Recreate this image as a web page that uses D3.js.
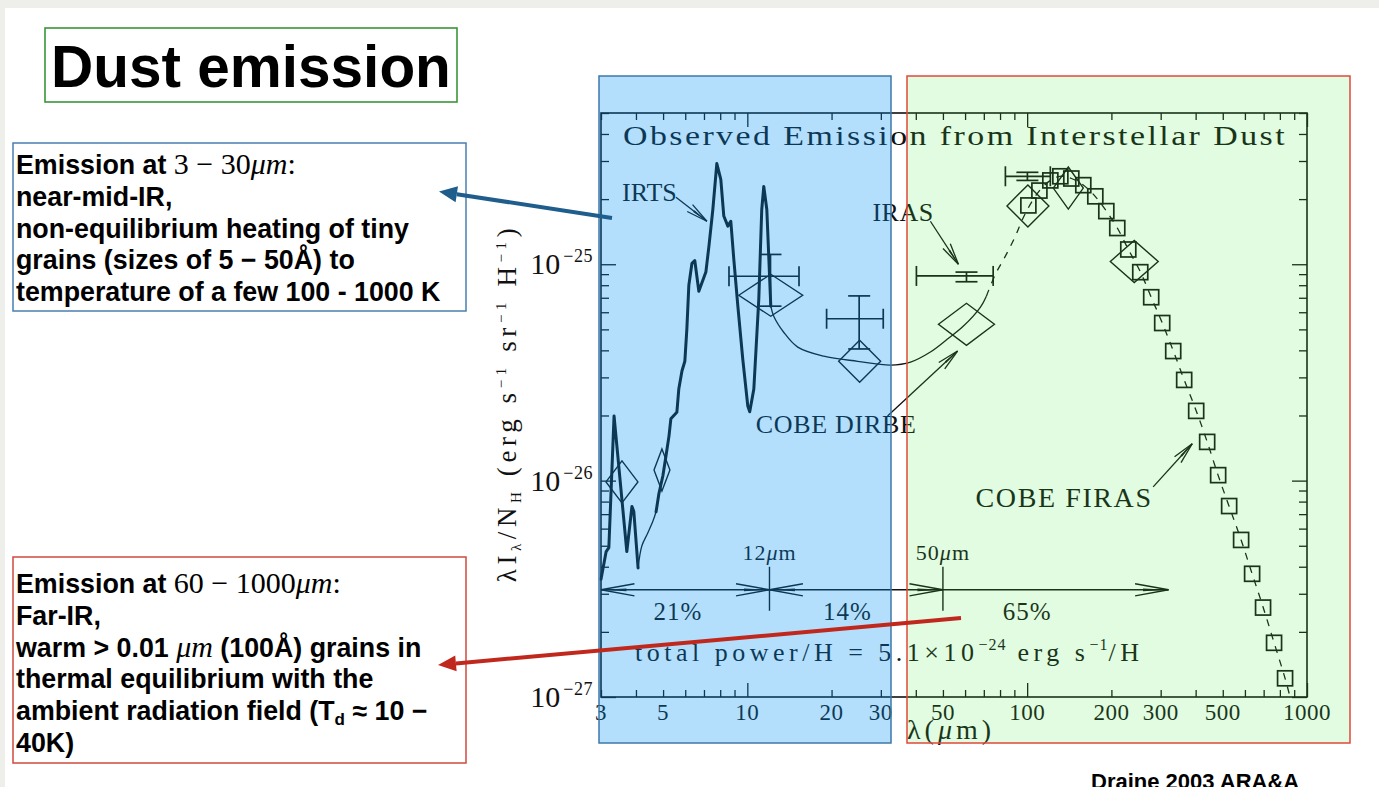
<!DOCTYPE html>
<html>
<head>
<meta charset="utf-8">
<title>Dust emission</title>
<script src="https://cdn.jsdelivr.net/npm/d3@7"></script>
<style>
  html, body { margin: 0; padding: 0; background: #eeeeea; }
  svg { display: block; }
  .fig text { font-family: "Liberation Serif", "Times New Roman", serif; fill: #111; }
  .slide text { font-family: "Liberation Sans", Arial, sans-serif; font-weight: bold; fill: #000; }
  .slide .m { font-family: "Liberation Serif", serif; font-weight: normal; }
  .slide .mi { font-family: "Liberation Serif", serif; font-weight: normal; font-style: italic; }
</style>
</head>
<body>
<div id="slide"></div>
<script>
// Slide size
var svgWidth = 1379;
var svgHeight = 787;

// Plot box of the scanned figure (pixels)
var plot = { left: 601, top: 113, right: 1307, bottom: 697 };

// Data: [wavelength (micron), lambda I_lambda / N_H (erg s^-1 sr^-1 H^-1)]
var irtsShort = [[3.0, 3.5e-27], [3.13, 4.7e-27], [3.2, 4.9e-27], [3.34, 1.99e-26], [3.71, 4.7e-27],
  [3.87, 7.6e-27], [3.93, 7.2e-27], [4.07, 3.95e-27]];
var modelGap = [[4.07, 3.95e-27], [4.2, 5.0e-27], [4.4, 5.7e-27], [4.6, 6.5e-27], [4.72, 7.18e-27]];
var irtsLong = [[4.72, 7.18e-27], [4.83, 8.7e-27], [4.99, 1.05e-26], [5.12, 1.3e-26], [5.25, 1.61e-26],
  [5.33, 1.93e-26], [5.6, 2.07e-26], [5.69, 2.65e-26], [5.84, 3.21e-26], [5.98, 3.56e-26], [6.08, 5.01e-26],
  [6.18, 8.0e-26], [6.34, 1.01e-25], [6.49, 1.04e-25], [6.71, 7.5e-26], [7.11, 9.2e-26], [7.29, 1.21e-25],
  [7.53, 1.79e-25], [7.78, 2.92e-25], [8.04, 2.47e-25], [8.24, 1.67e-25], [8.52, 1.5e-25], [8.73, 1.58e-25],
  [8.95, 1.05e-25], [9.25, 6.4e-26], [9.63, 3.65e-26], [10.04, 2.21e-26], [10.2, 2.08e-26], [10.55, 2.65e-26],
  [10.99, 6.9e-26], [11.26, 1.79e-25], [11.45, 2.29e-25], [11.74, 1.79e-25], [11.83, 1.41e-25], [12.13, 6.4e-26]];
var modelSolid = [[12.13, 6.4e-26], [12.43, 5.75e-26], [13.49, 4.85e-26], [15.14, 4.14e-26], [18.75, 3.76e-26],
  [24.8, 3.56e-26], [32.5, 3.42e-26], [38.3, 3.53e-26], [45.1, 3.93e-26], [51.9, 4.51e-26], [59.2, 5.18e-26],
  [68.1, 6.34e-26], [71.5, 7.12e-26]];
var modelDashed = [[71.5, 7.12e-26], [77, 8.99e-26], [83.6, 1.09e-25], [90.8, 1.35e-25], [97, 1.65e-25],
  [105.3, 2.0e-25], [113.4, 2.27e-25], [121, 2.44e-25], [131, 2.55e-25], [144, 2.49e-25], [159, 2.32e-25],
  [175, 2.06e-25], [192, 1.76e-25], [210, 1.47e-25], [230, 1.17e-25], [254, 9.2e-26], [278, 7.0e-26],
  [304, 5.35e-26], [333, 3.97e-26], [364, 2.92e-26], [402, 2.1e-26], [440, 1.51e-26], [481, 1.06e-26],
  [527, 7.6e-27], [582, 5.3e-27], [637, 3.7e-27], [697, 2.6e-27], [763, 1.78e-27], [835, 1.22e-27], [870, 1.0e-27]];
var firas = [[101, 1.87e-25], [110.6, 2.19e-25], [121, 2.44e-25], [131.4, 2.55e-25], [143.8, 2.49e-25],
  [158.7, 2.32e-25], [175.2, 2.06e-25], [191.8, 1.76e-25], [209.9, 1.47e-25], [229.8, 1.17e-25],
  [253.6, 9.19e-26], [277.5, 7.04e-26], [303.8, 5.35e-26], [332.6, 3.97e-26], [364, 2.92e-26],
  [401.8, 2.1e-26], [439.8, 1.51e-26], [481.4, 1.06e-26], [527, 7.63e-27], [581.5, 5.32e-27],
  [636.6, 3.71e-27], [696.6, 2.59e-27], [762.6, 1.78e-27], [834.9, 1.22e-27]];
// DIRBE bands: [lambda, value, band low, band high]
var dirbe = [[3.565, 9.86e-27, 3.126, 4.065], [4.953, 1.12e-26, 4.64, 5.29], [12.13, 7.19e-26, 9.32, 15.77],
  [25.2, 3.56e-26, 21.2, 29.95], [60.7, 5.28e-26, 48.2, 76.4], [100.6, 1.86e-25, 84.7, 119.6],
  [140.3, 2.25e-25, 124, 158.7], [241.4, 1.03e-25, 198.2, 294]];
// IRAS: [lambda, value, lambda low, lambda high, value low, value high]
var iras = [[12.1, 8.8e-26, 8.6, 15.3, 6.4e-26, 1.11e-25], [25.1, 5.6e-26, 19.2, 30.6, 4.06e-26, 7.14e-26],
  [60.7, 8.83e-26, 40.2, 75.6, 8.3e-26, 9.2e-26], [100.2, 2.55e-25, 83.6, 121, 2.44e-25, 2.66e-25]];

var xTickLabels = [3, 5, 10, 20, 30, 50, 100, 200, 300, 500, 1000];
var yTickExps = [-27, -26, -25];

// Power split along wavelength
var powerEdges = [3, 12, 50, 320];
var powerShares = ["21%", "14%", "65%"];
var powerLabelAt = [5.65, 22.8, 100];
var powerLevel = 3.13e-27;
var edgeNames = ["12", "50"];

// Labels inside the figure: text, text anchor point, arrow start, arrow tip
var figLabels = [
  { text: "IRTS", at: [3.565, 1.97e-25], from: [5.56, 2.04e-25], to: [7.17, 1.58e-25] },
  { text: "IRAS", at: [28.0, 1.58e-25], from: [45.1, 1.58e-25], to: [56.8, 1.0e-25] },
  { text: "COBE DIRBE", at: [10.72, 1.66e-26], from: [31.7, 1.99e-26], to: [56.4, 3.97e-26] },
  { text: "COBE FIRAS", at: [65.4, 7.57e-27], from: [282, 9.35e-27], to: [389, 1.48e-26] }
];
var labelSizes = [26, 26, 26, 28];
var labelSpacing = [0, 0.5, 0.7, 1.6];

var svg = d3.select("#slide").append("svg")
  .attr("width", svgWidth)
  .attr("height", svgHeight);

svg.append("rect").attr("width", svgWidth).attr("height", svgHeight).attr("fill", "#eeeeea");
svg.append("rect").attr("x", 5).attr("y", 8)
  .attr("width", svgWidth - 5).attr("height", svgHeight - 8).attr("fill", "#fff");

var x = d3.scaleLog().domain([3, 1000]).range([plot.left, plot.right]);
var y = d3.scaleLog().domain([1e-27, 5e-25]).range([plot.bottom, plot.top]);

var ink = "#111";
var fig = svg.append("g").attr("class", "fig");

// frame
fig.append("rect")
  .attr("x", plot.left).attr("y", plot.top)
  .attr("width", plot.right - plot.left).attr("height", plot.bottom - plot.top)
  .attr("fill", "none").attr("stroke", ink).attr("stroke-width", 1.6);

function isDecade(d) {
  var l = Math.log10(d);
  return Math.abs(l - Math.round(l)) < 1e-6;
}
var xMajor = x.ticks().filter(isDecade);
var xMinor = x.ticks().filter(function(d) { return !isDecade(d); });
var yMajor = y.ticks().filter(isDecade);
var yMinor = y.ticks().filter(function(d) { return !isDecade(d); });

function ticks(axis, values, size, tx, ty) {
  fig.append("g")
    .attr("transform", "translate(" + tx + "," + ty + ")")
    .attr("color", ink)
    .call(axis.tickValues(values).tickSize(-size).tickSizeOuter(0).tickFormat(""))
    .call(function(g) { g.select(".domain").remove(); })
    .selectAll("line").attr("stroke-width", 1.3);
}
ticks(d3.axisBottom(x), xMinor, 7, 0, plot.bottom);
ticks(d3.axisBottom(x), xMajor, 14, 0, plot.bottom);
ticks(d3.axisTop(x), xMinor, 7, 0, plot.top);
ticks(d3.axisTop(x), xMajor, 14, 0, plot.top);
ticks(d3.axisLeft(y), yMinor, 8, plot.left, 0);
ticks(d3.axisLeft(y), yMajor, 15, plot.left, 0);
ticks(d3.axisRight(y), yMinor, 8, plot.right, 0);
ticks(d3.axisRight(y), yMajor, 15, plot.right, 0);

// tick labels
fig.selectAll(".xlab").data(xTickLabels).join("text")
  .attr("class", "xlab")
  .attr("x", function(d) { return x(d); })
  .attr("y", plot.bottom + 23)
  .attr("text-anchor", "middle")
  .attr("font-size", 23)
  .attr("letter-spacing", 0.5)
  .text(function(d) { return d; });

var ylab = fig.selectAll(".ylab").data(yTickExps).join("text")
  .attr("class", "ylab")
  .attr("x", plot.left - 8)
  .attr("y", function(d) { return y(Math.pow(10, d)) + 10; })
  .attr("text-anchor", "end");
ylab.append("tspan").attr("font-size", 30).text("10");
ylab.append("tspan").attr("font-size", 18).attr("dx", 3).attr("dy", -12).attr("letter-spacing", 0.5)
  .text(function(d) { return "\u2212" + Math.abs(d); });

// axis titles
var xt = fig.append("text")
  .attr("x", plot.left + 306).attr("y", plot.bottom + 42)
  .attr("font-size", 28).attr("letter-spacing", 4);
xt.append("tspan").text("\u03bb(");
xt.append("tspan").attr("font-style", "italic").text("\u03bc");
xt.append("tspan").text("m)");

var yt = fig.append("text")
  .attr("transform", "translate(516," + (plot.top + 290) + ") rotate(-90)")
  .attr("text-anchor", "middle")
  .attr("font-size", 27)
  .attr("letter-spacing", 4.6);
yt.append("tspan").text("\u03bbI");
yt.append("tspan").attr("font-size", 15).attr("dy", 5).text("\u03bb");
yt.append("tspan").attr("dy", -5).text("/N");
yt.append("tspan").attr("font-size", 15).attr("dy", 5).text("H");
yt.append("tspan").attr("dy", -5).text(" (erg s");
yt.append("tspan").attr("font-size", 15).attr("dy", -10).text("\u22121");
yt.append("tspan").attr("dy", 10).text(" sr");
yt.append("tspan").attr("font-size", 15).attr("dy", -10).text("\u22121");
yt.append("tspan").attr("dy", 10).text(" H");
yt.append("tspan").attr("font-size", 15).attr("dy", -10).text("\u22121");
yt.append("tspan").attr("dy", 10).text(")");

fig.append("text")
  .attr("x", plot.left + 22).attr("y", plot.top + 32)
  .attr("font-size", 28)
  .attr("letter-spacing", 2)
  .attr("textLength", 664).attr("lengthAdjust", "spacingAndGlyphs")
  .text("Observed Emission from Interstellar Dust");

// data lines
var straight = d3.line().x(function(d) { return x(d[0]); }).y(function(d) { return y(d[1]); });
var smooth = d3.line().curve(d3.curveCatmullRom.alpha(0.5))
  .x(function(d) { return x(d[0]); }).y(function(d) { return y(d[1]); });

[modelGap, modelSolid].forEach(function(s) {
  fig.append("path").attr("d", smooth(s)).attr("fill", "none").attr("stroke", ink).attr("stroke-width", 1.3);
});
fig.append("path").attr("d", smooth(modelDashed)).attr("fill", "none")
  .attr("stroke", ink).attr("stroke-width", 1.3).attr("stroke-dasharray", "7,7");
[irtsShort, irtsLong].forEach(function(s) {
  fig.append("path").attr("d", straight(s)).attr("fill", "none").attr("stroke", ink)
    .attr("stroke-width", 3).attr("stroke-linejoin", "round").attr("stroke-linecap", "round");
});

// DIRBE diamonds
var dh = 21;
fig.selectAll(".dirbe").data(dirbe).join("path")
  .attr("class", "dirbe")
  .attr("d", function(d) {
    var cx = x(d[0]), cy = y(d[1]);
    return "M" + x(d[2]) + "," + cy + "L" + cx + "," + (cy - dh) + "L" + x(d[3]) + "," + cy +
      "L" + cx + "," + (cy + dh) + "Z";
  })
  .attr("fill", "none").attr("stroke", ink).attr("stroke-width", 1.4);

// FIRAS squares
var sq = 15;
fig.selectAll(".firas").data(firas).join("rect")
  .attr("class", "firas")
  .attr("x", function(d) { return x(d[0]) - sq / 2; })
  .attr("y", function(d) { return y(d[1]) - sq / 2; })
  .attr("width", sq).attr("height", sq)
  .attr("fill", "none").attr("stroke", ink).attr("stroke-width", 1.7);

// IRAS error crosses
var capH = 10, capV = 11;
iras.forEach(function(d) {
  var g = fig.append("g").attr("stroke", ink).attr("stroke-width", 1.7);
  var cx = x(d[0]), cy = y(d[1]), x0 = x(d[2]), x1 = x(d[3]), y0 = y(d[4]), y1 = y(d[5]);
  g.append("line").attr("x1", x0).attr("x2", x1).attr("y1", cy).attr("y2", cy);
  g.append("line").attr("x1", x0).attr("x2", x0).attr("y1", cy - capH).attr("y2", cy + capH);
  g.append("line").attr("x1", x1).attr("x2", x1).attr("y1", cy - capH).attr("y2", cy + capH);
  g.append("line").attr("x1", cx).attr("x2", cx).attr("y1", y0).attr("y2", y1);
  g.append("line").attr("x1", cx - capV).attr("x2", cx + capV).attr("y1", y0).attr("y2", y0);
  g.append("line").attr("x1", cx - capV).attr("x2", cx + capV).attr("y1", y1).attr("y2", y1);
});

// open arrow head made of two barbs and a thin filled core
function head(g, x1, y1, x2, y2, len, spread) {
  var a = Math.atan2(y2 - y1, x2 - x1);
  [-spread, spread].forEach(function(s) {
    g.append("line").attr("x1", x2).attr("y1", y2)
      .attr("x2", x2 - len * Math.cos(a + s)).attr("y2", y2 - len * Math.sin(a + s));
  });
  var c = len * 0.75, s2 = spread * 0.3;
  g.append("path")
    .attr("d", "M" + x2 + "," + y2 +
      "L" + (x2 - c * Math.cos(a + s2)) + "," + (y2 - c * Math.sin(a + s2)) +
      "L" + (x2 - c * Math.cos(a - s2)) + "," + (y2 - c * Math.sin(a - s2)) + "Z")
    .attr("fill", ink).attr("stroke", "none");
}

// labels with arrows
figLabels.forEach(function(d, i) {
  fig.append("text")
    .attr("x", x(d.at[0])).attr("y", y(d.at[1]))
    .attr("font-size", labelSizes[i]).attr("letter-spacing", labelSpacing[i])
    .text(d.text);
  var g = fig.append("g").attr("stroke", ink).attr("stroke-width", 1.3);
  var ax = x(d.from[0]), ay = y(d.from[1]), bx = x(d.to[0]), by = y(d.to[1]);
  g.append("line").attr("x1", ax).attr("y1", ay).attr("x2", bx).attr("y2", by);
  head(g, ax, ay, bx, by, 22, 0.2);
});

// power split arrows
var py = y(powerLevel);
var pg = fig.append("g").attr("stroke", ink).attr("stroke-width", 1.4);
pg.append("line").attr("x1", x(powerEdges[0])).attr("x2", x(powerEdges[3])).attr("y1", py).attr("y2", py);
for (var i = 0; i < 3; i++) {
  var a0 = x(powerEdges[i]), a1 = x(powerEdges[i + 1]);
  if (i < 2) head(pg, a1, py, a0, py, 34, 0.18);
  head(pg, a0, py, a1, py, 34, 0.18);
  fig.append("text")
    .attr("x", x(powerLabelAt[i])).attr("y", py + 30)
    .attr("text-anchor", "middle").attr("font-size", 25).attr("letter-spacing", 1)
    .text(powerShares[i]);
}
edgeNames.forEach(function(n, j) {
  var ex = x(powerEdges[j + 1]);
  pg.append("line").attr("x1", ex).attr("x2", ex).attr("y1", py - 23).attr("y2", py + 21);
  var t = fig.append("text").attr("x", ex).attr("y", py - 30)
    .attr("text-anchor", "middle").attr("font-size", 22).attr("letter-spacing", 1);
  t.append("tspan").text(n);
  t.append("tspan").attr("font-style", "italic").text("\u03bc");
  t.append("tspan").text("m");
});

var tp = fig.append("text")
  .attr("x", plot.left + 34).attr("y", py + 71)
  .attr("font-size", 26).attr("letter-spacing", 4.5);
tp.append("tspan").text("total power/H = 5.1\u00d710");
tp.append("tspan").attr("font-size", 16).attr("dy", -11).attr("letter-spacing", 1).text("\u221224");
tp.append("tspan").attr("dy", 11).text(" erg s");
tp.append("tspan").attr("font-size", 16).attr("dy", -11).attr("letter-spacing", 1).text("\u22121");
tp.append("tspan").attr("dy", 11).text("/H");

// coloured regions laid over the figure
var regionTop = 76, regionBottom = 743;
svg.append("rect").attr("x", 599).attr("y", regionTop)
  .attr("width", 292).attr("height", regionBottom - regionTop)
  .attr("fill", "rgb(5,148,245)").attr("fill-opacity", 0.3);
svg.append("rect").attr("x", 907).attr("y", regionTop)
  .attr("width", 443).attr("height", regionBottom - regionTop)
  .attr("fill", "rgb(75,238,75)").attr("fill-opacity", 0.16);
svg.append("rect").attr("x", 599).attr("y", regionTop)
  .attr("width", 292).attr("height", regionBottom - regionTop)
  .attr("fill", "none").attr("stroke", "#3d78a8").attr("stroke-width", 1.5);
svg.append("rect").attr("x", 907).attr("y", regionTop)
  .attr("width", 443).attr("height", regionBottom - regionTop)
  .attr("fill", "none").attr("stroke", "#e2473a").attr("stroke-width", 1.5);

// slide text
var slide = svg.append("g").attr("class", "slide");

slide.append("rect").attr("x", 45).attr("y", 28).attr("width", 412).attr("height", 74)
  .attr("fill", "#fff").attr("stroke", "#3a963a").attr("stroke-width", 1.6);
slide.append("text").attr("x", 51).attr("y", 87).attr("font-size", 58.5).text("Dust emission");

var box1Lines = [
  [["Emission at "], ["3 \u2212 30", "m"], ["\u03bcm", "mi"], [":", "m"]],
  [["near-mid-IR,"]],
  [["non-equilibrium heating of tiny"]],
  [["grains (sizes of 5 \u2212 50\u00c5) to"]],
  [["temperature of a few 100 - 1000 K"]]
];
var box2Lines = [
  [["Emission at "], ["60 \u2212 1000", "m"], ["\u03bcm", "mi"], [":", "m"]],
  [["Far-IR,"]],
  [["warm > 0.01 "], ["\u03bcm", "mi"], [" (100\u00c5) grains in"]],
  [["thermal equilibrium with the"]],
  [["ambient radiation field (T"], ["d", "sub"], [" \u2248 10 \u2212"]],
  [["40K)"]]
];

function textBox(x0, y0, w, h, colour, baselines, lines) {
  slide.append("rect").attr("x", x0).attr("y", y0).attr("width", w).attr("height", h)
    .attr("fill", "#fff").attr("stroke", colour).attr("stroke-width", 1.5);
  lines.forEach(function(segs, i) {
    var t = slide.append("text").attr("x", x0 + 3).attr("y", baselines[i]).attr("font-size", 26.8);
    var shift = 0;
    segs.forEach(function(s) {
      var ts = t.append("tspan").text(s[0]);
      if (s[1]) ts.attr("class", s[1]);
      if (s[1] === "m" || s[1] === "mi") ts.attr("font-size", 30);
      if (s[1] === "sub") { ts.attr("font-size", 17).attr("dy", 5); shift = 5; }
      else if (shift) { ts.attr("dy", -shift); shift = 0; }
    });
  });
}
textBox(13, 143, 453, 168, "#4a7fb0", [174, 206, 238, 269, 301], box1Lines);
textBox(13, 557, 453, 206, "#d04a3f", [593, 625, 657, 688, 720, 752], box2Lines);

slide.append("text").attr("x", 1091).attr("y", 789).attr("font-size", 22).text("Draine 2003 ARA&A");

// pointer arrows from the figure to the boxes
function pointer(x1, y1, x2, y2, colour) {
  var a = Math.atan2(y2 - y1, x2 - x1), len = 18, hw = 8;
  var bx = x2 - len * Math.cos(a), by = y2 - len * Math.sin(a);
  svg.append("line").attr("x1", x1).attr("y1", y1).attr("x2", bx).attr("y2", by)
    .attr("stroke", colour).attr("stroke-width", 4);
  svg.append("path")
    .attr("d", "M" + x2 + "," + y2 +
      "L" + (bx + hw * Math.sin(a)) + "," + (by - hw * Math.cos(a)) +
      "L" + (bx - hw * Math.sin(a)) + "," + (by + hw * Math.cos(a)) + "Z")
    .attr("fill", colour);
}
pointer(612, 218, 439, 191.5, "#1f5d8c");
pointer(961, 618, 438, 665, "#c0281e");
</script>
</body>
</html>
